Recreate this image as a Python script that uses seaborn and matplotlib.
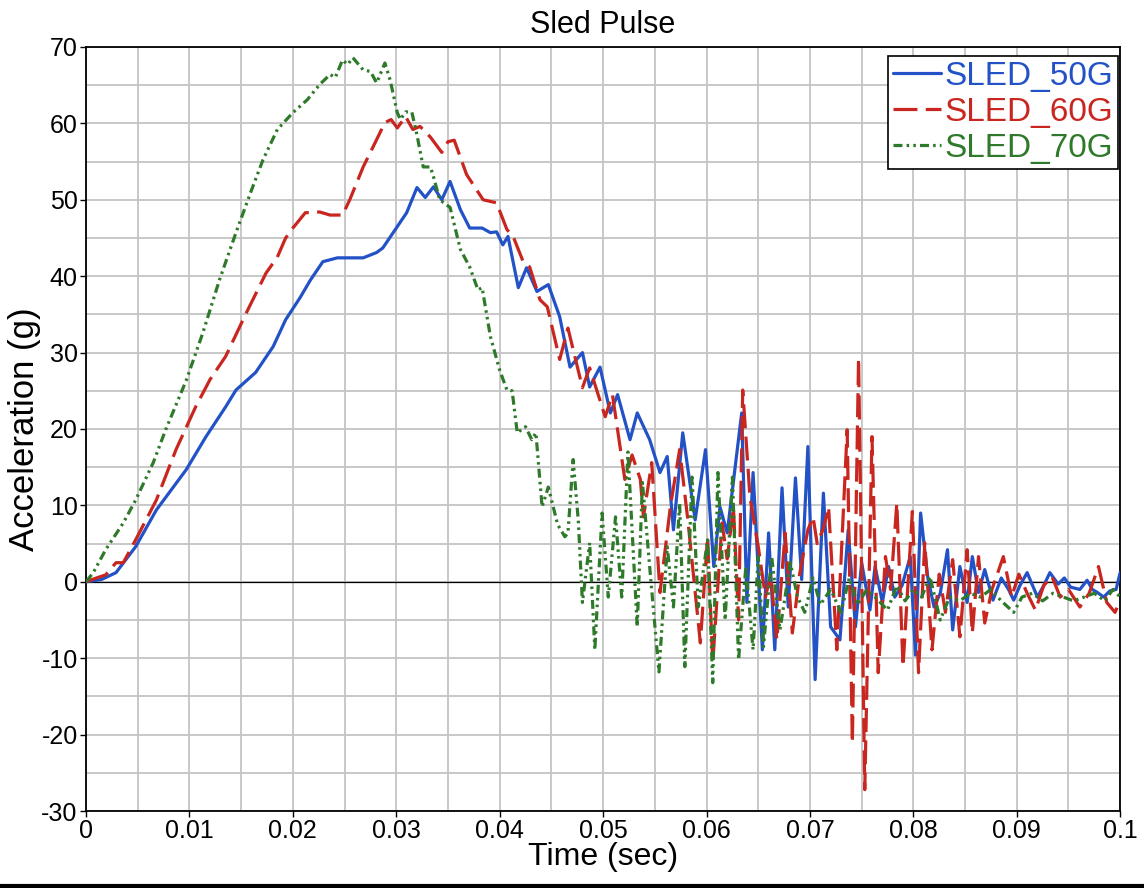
import numpy as np
import pandas as pd
import matplotlib
matplotlib.use("Agg")
import matplotlib.pyplot as plt
import seaborn as sns

# ---------------------------------------------------------
# Data (time in ms, acceleration in g)
# ---------------------------------------------------------
t_50g = [0, 1.5, 2.9, 4.8, 6.8, 9.7, 11.6, 13.5, 14.5, 16.4, 18.1, 19.3, 20.7, 21.7,
         22.9, 24.3, 26.8, 28.1, 28.7, 30.1, 31.0, 32.0, 32.8, 33.6, 34.4, 35.2, 36.2,
         37.1, 38.3, 39.1, 39.7, 40.3, 40.8, 41.8, 42.6, 43.6, 44.7, 45.8, 46.8, 48.0,
         48.7, 49.7, 50.7, 51.4, 52.6, 53.3, 54.5, 55.5, 56.2, 56.8, 57.7, 58.9, 59.9,
         60.7, 61.3, 62.0, 63.4, 63.9, 64.5, 65.4, 66.0, 66.6, 67.3, 67.9, 68.6, 69.2,
         69.8, 70.5, 71.3, 72.0, 72.9, 73.7, 74.4, 75.0, 75.8, 76.3, 77.0, 77.6, 78.2,
         78.9, 79.7, 80.2, 80.7, 81.4, 82.0, 82.6, 83.3, 83.8, 84.5, 85.2, 85.7, 86.3,
         86.9, 87.7, 88.5, 89.2, 89.7, 90.3, 91.0, 92.0, 92.6, 93.2, 94.0, 94.6, 95.2,
         96.1, 96.8, 97.3, 97.8, 98.4, 99.0, 99.6, 100]
g_50g = [0, 0.3, 1.2, 4.6, 9.4, 14.7, 19.0, 22.9, 25.1, 27.4, 30.8, 34.3, 37.2, 39.5,
         41.9, 42.4, 42.4, 43.1, 43.7, 46.5, 48.3, 51.6, 50.3, 51.7, 50.0, 52.4, 48.7,
         46.3, 46.3, 45.7, 45.8, 44.1, 45.2, 38.5, 41.1, 38.0, 38.9, 34.7, 28.1, 30.0,
         25.5, 28.1, 22.1, 24.5, 18.6, 22.1, 18.6, 14.3, 16.4, 6.8, 19.5, 8.1, 17.3,
         2.0, 9.8, 6.4, 22.1, -2.7, 14.3, -8.9, 6.4, -8.9, 12.3, -3.3, 13.6, 0.3,
         17.7, -12.8, 11.6, -5.9, -7.6, 6.8, -5.9, 2.5, -3.7, 2.0, -2.7, 2.0, -2.0,
         -0.5, 3.3, -9.6, 9.0, 0.5, -3.3, -1.5, 4.2, -6.3, 2.0, -2.7, 3.3, -1.4,
         1.6, -2.4, 0.5, -1.0, -2.4, -0.5, 1.2, -2.0, -0.5, 1.2, -0.3, 0.5, -0.7,
         -1.0, 0.2, -1.0, -1.4, -2.0, -1.2, -1.0, 1.2]

t_60g = [0, 1.0, 1.9, 2.9, 3.6, 4.8, 6.8, 8.7, 10.6, 12.0, 13.5, 15.5, 17.4, 18.5,
         19.3, 20.0, 21.2, 22.6, 23.6, 24.8, 25.5, 26.8, 28.0, 28.9, 29.5, 30.1, 30.9,
         31.6, 32.3, 33.3, 34.4, 35.0, 35.6, 36.8, 38.4, 39.7, 40.7, 41.3, 42.3, 42.9,
         43.9, 44.6, 45.8, 46.6, 48.0, 48.7, 50.2, 50.9, 52.1, 52.8, 53.6, 53.9, 54.7,
         55.5, 56.5, 57.4, 58.2, 59.4, 60.1, 60.6, 61.5, 62.0, 62.6, 63.1, 63.5, 64.2,
         65.0, 65.7, 66.2, 66.8, 67.6, 68.3, 69.0, 69.8, 70.3, 70.7, 71.3, 71.8, 72.6,
         73.6, 74.1, 74.7, 75.3, 76.0, 76.6, 77.3, 77.8, 78.4, 79.0, 79.9, 80.5, 81.1,
         81.8, 82.5, 83.1, 83.8, 84.5, 85.2, 85.7, 86.3, 86.9, 87.6, 88.7, 89.5, 90.2,
         91.0, 91.8, 92.6, 93.4, 94.2, 95.0, 96.1, 97.0, 97.9, 98.7, 99.5, 100]
g_60g = [0, 0.5, 0.9, 2.5, 2.5, 5.5, 10.7, 17.3, 22.9, 26.5, 29.5, 35.2, 40.4, 42.5,
         45.0, 46.3, 48.3, 48.4, 48.0, 48.0, 50.0, 54.3, 57.6, 60.1, 60.5, 59.4, 60.9,
         59.2, 59.6, 58.2, 56.2, 57.6, 57.8, 53.3, 50.0, 49.6, 46.1, 45.2, 41.8, 41.2,
         36.9, 36.0, 29.1, 33.2, 25.4, 28.0, 21.6, 24.5, 13.4, 16.6, 13.4, 8.5, 15.6,
         -1.4, 9.8, 17.3, 8.0, -8.0, 5.9, -10.6, 7.7, 3.0, 9.8, -5.0, 25.1, 11.1,
         4.6, -2.0, 1.0, -7.6, 6.4, -6.7, 1.0, 6.8, 8.5, 5.0, 7.0, 9.8, -8.9,
         19.9, -21.1, 29.3, -27.2, 19.0, -11.9, 3.3, -1.0, 10.3, -11.1, 9.2, -11.9, 5.1,
         -8.9, 1.0, -4.0, 2.9, -7.2, 4.2, -6.7, 3.3, -5.4, -1.0, 3.3, -2.0, 1.0,
         -1.5, -3.7, -0.5, 0.7, -2.0, -1.0, -3.3, -1.5, 2.0, -2.7, -4.0, -2.4]

t_70g = [0, 0.7, 1.9, 3.6, 4.8, 6.5, 7.7, 9.7, 11.3, 12.9, 14.5, 15.9, 17.1, 18.5,
         20.0, 21.4, 22.6, 23.6, 24.1, 24.8, 25.3, 25.8, 26.8, 27.5, 28.1, 28.9, 29.4,
         30.1, 30.4, 30.9, 31.5, 32.0, 32.6, 33.3, 33.6, 34.2, 35.2, 36.2, 37.1, 37.9,
         38.3, 39.1, 40.0, 40.7, 41.2, 41.7, 42.5, 43.1, 43.5, 44.1, 44.7, 45.6, 46.3,
         46.6, 47.1, 47.6, 48.0, 48.7, 49.2, 49.9, 50.5, 51.2, 51.8, 52.4, 53.3, 53.8,
         54.5, 55.4, 56.2, 56.8, 57.4, 57.9, 58.6, 59.2, 60.1, 60.6, 61.1, 61.8, 62.5,
         63.1, 63.8, 64.5, 65.0, 65.5, 66.3, 67.1, 68.1, 68.8, 69.5, 70.3, 71.0, 72.0,
         73.0, 73.8, 74.6, 75.5, 76.3, 77.5, 78.4, 79.2, 80.0, 80.8, 81.6, 82.6, 83.5,
         84.5, 85.5, 86.5, 87.5, 88.5, 89.7, 90.5, 91.5, 92.5, 93.5, 94.5, 95.5, 96.5,
         97.5, 98.5, 99.3, 100]
g_70g = [0, 1.2, 4.2, 7.7, 10.7, 15.6, 19.9, 26.4, 32.6, 39.5, 45.7, 50.9, 55.2, 59.2,
         61.4, 63.1, 65.1, 66.4, 66.0, 68.3, 67.7, 68.6, 67.0, 66.8, 65.3, 67.9, 65.7,
         61.4, 60.5, 61.5, 61.5, 58.5, 54.3, 54.3, 53.0, 50.0, 49.0, 43.5, 41.2, 38.2,
         38.5, 32.1, 27.7, 25.1, 25.0, 19.5, 20.3, 18.6, 19.5, 9.8, 12.4, 7.5, 5.9,
         6.4, 16.0, 8.0, -2.7, 5.1, -8.9, 9.0, -2.0, 8.5, -2.0, 17.0, -5.9, 13.0,
         2.0, -11.8, 4.6, -3.3, 10.3, -11.1, 13.7, -3.3, 5.5, -13.2, 14.3, -5.0, 13.7,
         -10.2, 2.0, -8.9, 3.3, -8.5, 3.3, -6.3, 2.5, -2.0, -4.0, 0.5, -3.0, -1.0,
         -4.0, 0.5, -3.0, -1.0, -2.0, -3.7, -0.5, -2.5, -1.0, -2.0, 0.7, -5.0, -2.0,
         -2.5, -1.5, -2.0, -1.0, -2.5, -4.0, -2.0, -1.5, -2.5, -1.5, -2.0, -2.5, -2.0,
         -1.5, -2.5, -1.0, -2.0]

series_names = ["SLED_50G", "SLED_60G", "SLED_70G"]
series_colors = ["#2352c7", "#c8261e", "#2f7a2a"]

x_ticks = [0, 0.01, 0.02, 0.03, 0.04, 0.05, 0.06, 0.07, 0.08, 0.09, 0.1]
x_tick_labels = ["0", "0.01", "0.02", "0.03", "0.04", "0.05", "0.06", "0.07", "0.08", "0.09", "0.1"]
y_ticks = [-30, -20, -10, 0, 10, 20, 30, 40, 50, 60, 70]
y_tick_labels = ["-30", "-20", "-10", "0", "10", "20", "30", "40", "50", "60", "70"]

# long-form table for seaborn
frames = []
for name, t, g in zip(series_names, [t_50g, t_60g, t_70g], [g_50g, g_60g, g_70g]):
    frames.append(pd.DataFrame({"time": np.array(t) / 1000.0, "accel": g, "series": name}))
df = pd.concat(frames, ignore_index=True)

sns.set_theme(style="white")
plt.rcParams["font.family"] = ["Liberation Sans", "DejaVu Sans"]
plt.rcParams["text.color"] = "black"
plt.rcParams["axes.labelcolor"] = "black"
plt.rcParams["xtick.color"] = "black"
plt.rcParams["ytick.color"] = "black"

fig = plt.figure(figsize=(11.44, 8.88), dpi=100)
ax = fig.add_axes([0.0752, 0.0867, 0.9040, 0.8604])

ax.axhline(0, color="black", lw=0.9, zorder=1.5)

sns.lineplot(
    data=df, x="time", y="accel", hue="series", style="series",
    palette=dict(zip(series_names, series_colors)),
    dashes={"SLED_50G": "", "SLED_60G": (7.5, 2.6), "SLED_70G": (2.8, 1.3, 0.8, 1.3, 0.8, 1.3)},
    estimator=None, sort=False, linewidth=2.3, ax=ax, zorder=3,
)

ax.set_xlim(0, 0.1)
ax.set_ylim(-30, 70)
ax.set_xticks(x_ticks)
ax.set_xticklabels(x_tick_labels)
ax.set_yticks(y_ticks)
ax.set_yticklabels(y_tick_labels)
ax.set_xticks(np.arange(0.005, 0.1, 0.01), minor=True)
ax.set_yticks(np.arange(-25, 70, 10), minor=True)

ax.grid(which="both", color="#c4c4c4", linewidth=1.3)
ax.set_axisbelow(True)
ax.tick_params(axis="both", which="major", labelsize=18, direction="out",
               length=4, width=1, color="black", labelcolor="black", pad=2,
               bottom=True, left=True)
ax.tick_params(axis="both", which="minor", length=0)

for sp in ax.spines.values():
    sp.set_color("black")
    sp.set_linewidth(1.3)

ax.set_xlabel("Time (sec)", fontsize=23, labelpad=-1, color="black")
ax.set_ylabel("Acceleration (g)", fontsize=25, labelpad=0, color="black")
ax.set_title("Sled Pulse", fontsize=22, pad=10, color="black")

handles, labels = ax.get_legend_handles_labels()
leg = ax.legend(handles, labels, loc="upper right", bbox_to_anchor=(0.998, 0.988),
                fontsize=24, frameon=True, fancybox=False, framealpha=1,
                edgecolor="black", handlelength=1.45, handletextpad=0.1,
                labelspacing=0.15, borderpad=0.15, borderaxespad=0.0)
leg.get_frame().set_linewidth(1.2)
for txt, col in zip(leg.get_texts(), series_colors):
    txt.set_color(col)
for line in leg.get_lines():
    line.set_linewidth(2.3)

fig.add_artist(plt.Line2D([0, 1], [0.002, 0.002], transform=fig.transFigure,
                          color="black", lw=3))

fig.savefig("out.png", dpi=100)
